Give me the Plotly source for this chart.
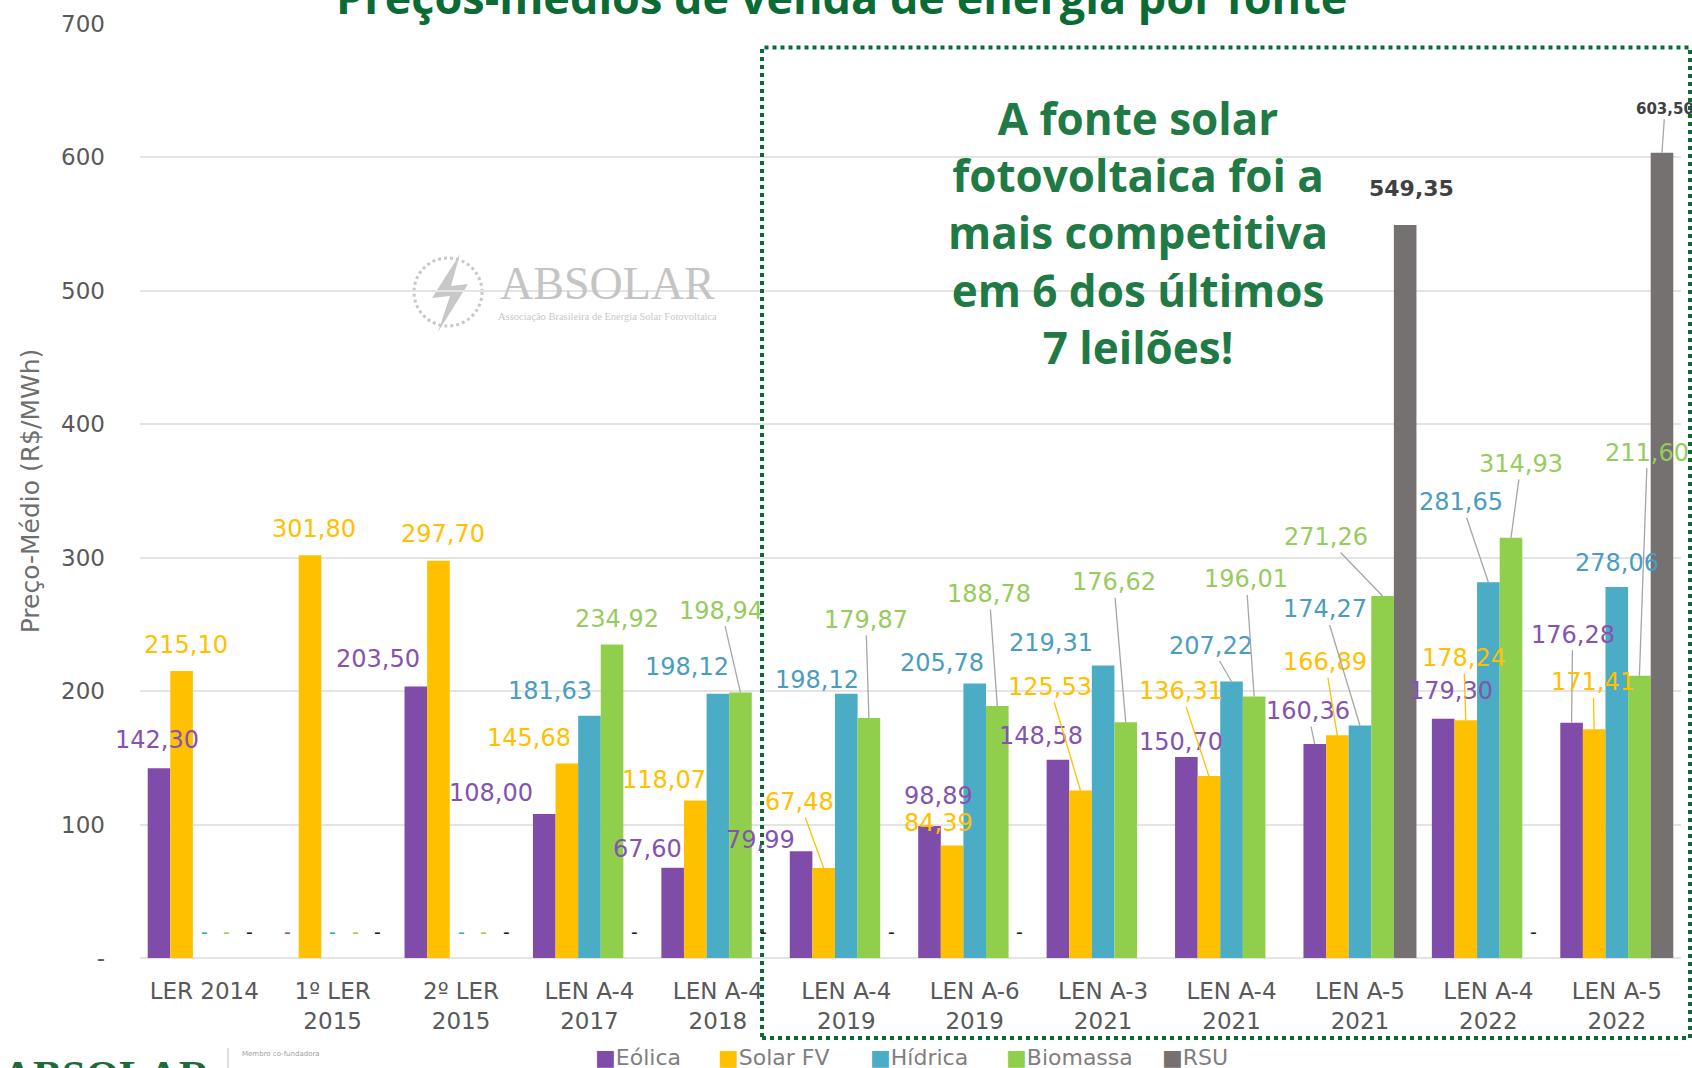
import plotly.graph_objects as go

# ---------------- data ----------------
categories = ["LER 2014", "1º LER<br>2015", "2º LER<br>2015", "LEN A-4<br>2017",
              "LEN A-4<br>2018", "LEN A-4<br>2019", "LEN A-6<br>2019", "LEN A-3<br>2021",
              "LEN A-4<br>2021", "LEN A-5<br>2021", "LEN A-4<br>2022", "LEN A-5<br>2022"]
eolica = [142.30, 0, 203.50, 108.00, 67.60, 79.99, 98.89, 148.58, 150.70, 160.36, 179.30, 176.28]
solar_fv = [215.10, 301.80, 297.70, 145.68, 118.07, 67.48, 84.39, 125.53, 136.31, 166.89, 178.24, 171.41]
hidrica = [0, 0, 0, 181.63, 198.12, 198.12, 205.78, 219.31, 207.22, 174.27, 281.65, 278.06]
biomassa = [0, 0, 0, 234.92, 198.94, 179.87, 188.78, 176.62, 196.01, 271.26, 314.93, 211.60]
rsu = [0, 0, 0, 0, 0, 0, 0, None, None, 549.35, 0, 603.50]
series_names = ["Eólica", "Solar FV", "Hídrica", "Biomassa", "RSU"]
y_tick_values = [0, 100, 200, 300, 400, 500, 600, 700]
y_tick_labels = ["-", "100", "200", "300", "400", "500", "600", "700"]

title_text = "Preços-médios de venda de energia por fonte"
callout_text = "A fonte solar<br>fotovoltaica foi a<br>mais competitiva<br>em 6 dos últimos<br>7 leilões!"
y_title = "Preço-Médio (R$/MWh)"

# ---------------- styles ----------------
series_values = [eolica, solar_fv, hidrica, biomassa, rsu]
bar_colors = ["#7F4CAA", "#FFC000", "#4BACC6", "#8FCF4C", "#767171"]
label_colors = ["#8453B0", "#FFC000", "#4A9DC0", "#96CC5E", "#404040"]
leader_colors = ["#A6A6A6", "#FFC000", "#A6A6A6", "#A6A6A6", "#A6A6A6"]

# label placement (pixel offset of label centre from bar top, leader line flag)
label_offsets = [
    [(-2, -28, 0), None, (-38, -27, 0), (-53, -21, 0), (-25, -19, 0), (-41, -11, 0),
     (9, -30, 0), (-17, -24, 0), (-5, -15, 0), (-7, -33, 1), (8, -28, 0), (1, -88, 1)],
    [(4, -26, 0), (4, -26, 0), (5, -27, 0), (-38, -26, 0), (-31, -20, 0), (-24, -66, 1),
     (-14, -22, 0), (-31, -104, 1), (-28, -85, 1), (-12, -73, 1), (-2, -62, 1), (-1, -47, 1)],
    [None, None, None, (-39, -25, 0), (-31, -27, 0), (-29, -14, 0),
     (-33, -20, 0), (-52, -22, 0), (-21, -36, 1), (-35, -116, 1), (-27, -80, 1), (0, -24, 0)],
    [None, None, None, (5, -26, 0), (-19, -82, 1), (-3, -98, 1),
     (-8, -112, 1), (-12, -140, 1), (-8, -117, 1), (-57, -59, 1), (10, -74, 1), (8, -223, 1)],
    [None] * 9 + [(6, -37, 0), None, (3, -44, 1)],
]

FONT = "DejaVu Sans"
GRAY = "#595959"

# plot-area pixel geometry
L, R, T, B = 140, 1681, 24, 958
W, H = R - L, B - T


def px_x(px):
    return (px - L) / W


def px_y(py):
    return (B - py) / H


bargap = 0.12
n_series = len(series_values)
slot = (1 - bargap) / n_series
xs = list(range(len(categories)))

fig = go.Figure()
for k, (name, vals) in enumerate(zip(series_names, series_values)):
    fig.add_trace(go.Bar(
        x=xs, y=vals, name=name, marker_color=bar_colors[k],
        marker_line_width=0, showlegend=False,
    ))

annotations = []
for k, vals in enumerate(series_values):
    for i, v in enumerate(vals):
        if v is None:
            continue
        xc = i + (k - (n_series - 1) / 2) * slot
        if v == 0:
            annotations.append(dict(
                x=xc, y=0, xref="x", yref="y", text="-", showarrow=False,
                yshift=26, font=dict(family=FONT, size=19,
                                     color=label_colors[k] if k < 4 else "#202020")))
            continue
        dx, dy, leader = label_offsets[k][i]
        txt = f"{v:.2f}".replace(".", ",")
        fsize = 24
        fcol = label_colors[k]
        if k == 4:
            fsize = 22 if i == 9 else 15
            txt = f"<b>{txt}</b>"
        if leader:
            annotations.append(dict(
                x=xc, y=v, xref="x", yref="y", text=txt, showarrow=True,
                ax=dx, ay=dy, arrowhead=0, arrowwidth=1.3, arrowcolor=leader_colors[k],
                standoff=0, font=dict(family=FONT, size=fsize, color=fcol)))
        else:
            annotations.append(dict(
                x=xc, y=v, xref="x", yref="y", text=txt, showarrow=False,
                xshift=dx, yshift=-dy, font=dict(family=FONT, size=fsize, color=fcol)))

# title (partly cut at top, as in the source image)
annotations.append(dict(
    x=px_x(841), y=px_y(29), xref="paper", yref="paper", xanchor="center", yanchor="bottom",
    text=f"<b>{title_text}</b>", showarrow=False,
    font=dict(family="Open Sans", size=45, color="#0B6B35")))

# callout text
annotations.append(dict(
    x=px_x(1138), y=px_y(232), xref="paper", yref="paper", xanchor="center", yanchor="middle",
    text=f"<b>{callout_text}</b>", showarrow=False, align="center",
    font=dict(family="Open Sans", size=44, color="#1F7A45")))

# watermark
annotations.append(dict(
    x=px_x(607), y=px_y(283), xref="paper", yref="paper", xanchor="center", yanchor="middle",
    text="ABSOLAR", showarrow=False,
    font=dict(family="Liberation Serif", size=46, color="#C4C4C4")))
annotations.append(dict(
    x=px_x(607), y=px_y(316), xref="paper", yref="paper", xanchor="center", yanchor="middle",
    text="Associação Brasileira de Energia Solar Fotovoltaica", showarrow=False,
    font=dict(family="Liberation Serif", size=10.5, color="#C8C8C8")))

# bottom-left logo (cut at the bottom edge)
annotations.append(dict(
    x=px_x(0), y=px_y(1050), xref="paper", yref="paper", xanchor="left", yanchor="top",
    text="<b>ABSOLAR</b>", showarrow=False,
    font=dict(family="Liberation Serif", size=43, color="#1E6B3A")))
annotations.append(dict(
    x=px_x(240), y=px_y(1054), xref="paper", yref="paper", xanchor="left", yanchor="middle",
    text="Membro co-fundadora", showarrow=False,
    font=dict(family=FONT, size=7, color="#A0A0A0")))

# manual legend
legend_x = [593, 716, 868, 1004, 1160]
for k, name in enumerate(series_names):
    annotations.append(dict(
        x=px_x(legend_x[k]), y=px_y(1057), xref="paper", yref="paper",
        xanchor="left", yanchor="middle", showarrow=False,
        text=f"<span style='color:{bar_colors[k]}'>■</span>{name}",
        font=dict(family=FONT, size=22, color="#7F7F7F")))

shapes = [
    # dotted highlight box
    dict(type="rect", xref="paper", yref="paper",
         x0=px_x(762), x1=px_x(1690), y0=px_y(1038), y1=px_y(47.5),
         line=dict(color="#0B6B35", width=4, dash="4px,4px"), layer="above"),
    # watermark ring
    dict(type="circle", xref="paper", yref="paper",
         x0=px_x(414), x1=px_x(482), y0=px_y(326), y1=px_y(258),
         line=dict(color="#C8C8C8", width=3, dash="dot"), layer="below"),
    # watermark bolt
    dict(type="path", xref="paper", yref="paper",
         path=(f"M {px_x(460)},{px_y(254)} L {px_x(432)},{px_y(298)} L {px_x(450)},{px_y(296)} "
               f"L {px_x(438)},{px_y(332)} L {px_x(468)},{px_y(284)} L {px_x(451)},{px_y(286)} Z"),
         fillcolor="#C8C8C8", line=dict(width=0), layer="below"),
    # logo separator
    dict(type="line", xref="paper", yref="paper",
         x0=px_x(228), x1=px_x(228), y0=px_y(1048), y1=px_y(1068),
         line=dict(color="#BFBFBF", width=1)),
]

fig.update_layout(
    width=1692, height=1068,
    margin=dict(l=L, r=1692 - R, t=T, b=1068 - B),
    paper_bgcolor="white", plot_bgcolor="white",
    barmode="group", bargap=bargap, bargroupgap=0,
    annotations=annotations, shapes=shapes,
    showlegend=False,
    font=dict(family=FONT, color=GRAY),
)
fig.update_xaxes(
    range=[-0.5, len(categories) - 0.5], tickvals=xs, ticktext=categories,
    showgrid=False, zeroline=False, showline=False, ticks="",
    tickfont=dict(family=FONT, size=23, color=GRAY), ticklabelstandoff=17,
)
fig.update_yaxes(
    range=[0, 700], tickvals=y_tick_values, ticktext=y_tick_labels,
    showgrid=True, gridcolor="#E4E4E4", gridwidth=2,
    zeroline=True, zerolinecolor="#E4E4E4", zerolinewidth=2,
    showline=False, ticks="", ticklabelstandoff=34,
    tickfont=dict(family=FONT, size=23, color=GRAY),
    title=dict(text=y_title, standoff=14, font=dict(family=FONT, size=25, color="#6E6E6E")),
)

fig.write_html("out.html")
